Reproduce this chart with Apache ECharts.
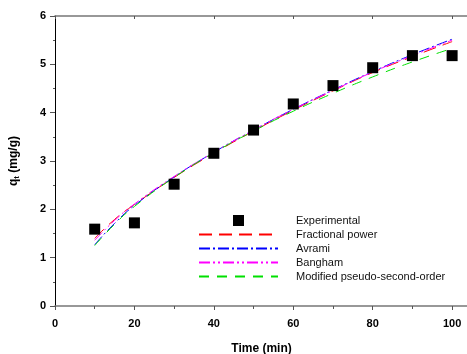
<!DOCTYPE html>
<html><head><meta charset="utf-8">
<script src="https://cdn.jsdelivr.net/npm/echarts@6/dist/echarts.min.js"></script>
<style>html,body{margin:0;padding:0;background:#fff}#c{width:467px;height:354px}</style>
</head><body><div id="c"></div>
<script>
var expTime = [10, 20, 30, 40, 50, 60, 70, 80, 90, 100];
var expQ = [1.59, 1.72, 2.52, 3.16, 3.64, 4.18, 4.56, 4.93, 5.18, 5.18];
var fitTime = [10, 15, 20, 30, 40, 50, 60, 70, 80, 90, 100];
var fracPower = [1.40, 1.79, 2.10, 2.66, 3.16, 3.62, 4.05, 4.45, 4.83, 5.16, 5.47];
var avrami = [1.27, 1.71, 2.08, 2.67, 3.18, 3.64, 4.07, 4.47, 4.85, 5.20, 5.52];
var bangham = [1.36, 1.77, 2.11, 2.68, 3.18, 3.64, 4.07, 4.46, 4.84, 5.18, 5.50];
var modPSO = [1.25, 1.69, 2.06, 2.66, 3.17, 3.62, 4.03, 4.40, 4.74, 5.05, 5.33];
var xTicks = [0, 20, 40, 60, 80, 100];
var yTicks = [0, 1, 2, 3, 4, 5, 6];

function pairs(xs, ys) { return xs.map(function (x, i) { return [x, ys[i]]; }); }

var font = '"Liberation Sans", Arial, sans-serif';
var chart = echarts.init(document.getElementById('c'), null, { renderer: 'canvas' });

function fitSeries(name, data, color, dash) {
  return {
    name: name, type: 'line', data: pairs(fitTime, data), smooth: true,
    symbol: 'none', showSymbol: false, xAxisIndex: 0, yAxisIndex: 0,
    lineStyle: { color: color, width: 1, type: dash },
    itemStyle: { color: color }, z: 3
  };
}
function lineLegend(name) { return { name: name, itemStyle: { opacity: 0 } }; }

chart.setOption({
  animation: false,
  grid: { left: 55, top: 16, width: 413, height: 290, containLabel: false, outerBoundsMode: 'none' },
  legend: {
    orient: 'vertical', left: 193, top: 210, itemWidth: 79, itemHeight: 11, itemGap: 3,
    textStyle: { fontFamily: font, fontSize: 11, color: '#111', padding: [0, 0, 0, 13] },
    data: [
      { name: 'Experimental', icon: 'path://M0,0L10,0L10,10L0,10Z' },
      lineLegend('Fractional power'), lineLegend('Avrami'), lineLegend('Bangham'),
      lineLegend('Modified pseudo-second-order')
    ]
  },
  xAxis: [{
    type: 'value', min: 0, max: 104, interval: 20, position: 'bottom',
    name: 'Time (min)', nameLocation: 'middle', nameGap: 37,
    nameTextStyle: { fontFamily: font, fontSize: 12, fontWeight: 'bold', color: '#000' },
    axisLine: { show: true, onZero: false, lineStyle: { color: '#777', width: 1.5 } },
    axisTick: { show: true, inside: false, length: 4, lineStyle: { color: '#555' } },
    minorTick: { show: true, splitNumber: 2, length: 3, lineStyle: { color: '#555' } },
    axisLabel: { fontFamily: font, fontSize: 11, fontWeight: 'bold', color: '#000', margin: 12, showMaxLabel: false,
      formatter: function (v) { return xTicks.indexOf(v) >= 0 ? String(v) : ''; } },
    splitLine: { show: false }
  }, {
    type: 'value', min: 0, max: 104, interval: 20, position: 'top',
    axisLine: { show: true, onZero: false, lineStyle: { color: '#777', width: 1.5 } },
    axisTick: { show: true, inside: true, length: 3, lineStyle: { color: '#555' } },
    minorTick: { show: false },
    axisLabel: { show: false }, splitLine: { show: false }
  }],
  yAxis: {
    type: 'value', min: 0, max: 6, interval: 1,
    name: '{q|q}{t|t}{r| (mg/g)}', nameLocation: 'middle', nameGap: 34, nameRotate: 90,
    nameTextStyle: { fontFamily: font, fontSize: 12, fontWeight: 'bold', color: '#000',
      rich: {
        q: { fontFamily: font, fontSize: 12, fontWeight: 'bold', color: '#000' },
        t: { fontFamily: font, fontSize: 8, fontWeight: 'bold', color: '#000', verticalAlign: 'bottom', padding: [6, 0, 0, 0] },
        r: { fontFamily: font, fontSize: 12, fontWeight: 'bold', color: '#000' }
      } },
    axisLine: { show: true, onZero: false, lineStyle: { color: '#000', width: 1 } },
    axisTick: { show: true, inside: false, length: 5, lineStyle: { color: '#555' } },
    minorTick: { show: true, splitNumber: 2, length: 2, lineStyle: { color: '#555' } },
    axisLabel: { fontFamily: font, fontSize: 11, fontWeight: 'bold', color: '#000', margin: 9,
      formatter: function (v) { return yTicks.indexOf(v) >= 0 ? String(v) : ''; } },
    splitLine: { show: false }
  },
  series: [
    { name: 'Experimental', type: 'scatter', data: pairs(expTime, expQ), symbol: 'rect',
      symbolSize: 11, itemStyle: { color: '#000', opacity: 1 }, z: 5 },
    fitSeries('Fractional power', fracPower, '#ff0000', [13, 7]),
    fitSeries('Avrami', avrami, '#0000ff', [11, 3, 2, 3]),
    fitSeries('Bangham', bangham, '#ff00ff', [11, 3, 2, 3, 2, 3]),
    fitSeries('Modified pseudo-second-order', modPSO, '#00e000', [10, 8])
  ]
});
</script></body></html>
